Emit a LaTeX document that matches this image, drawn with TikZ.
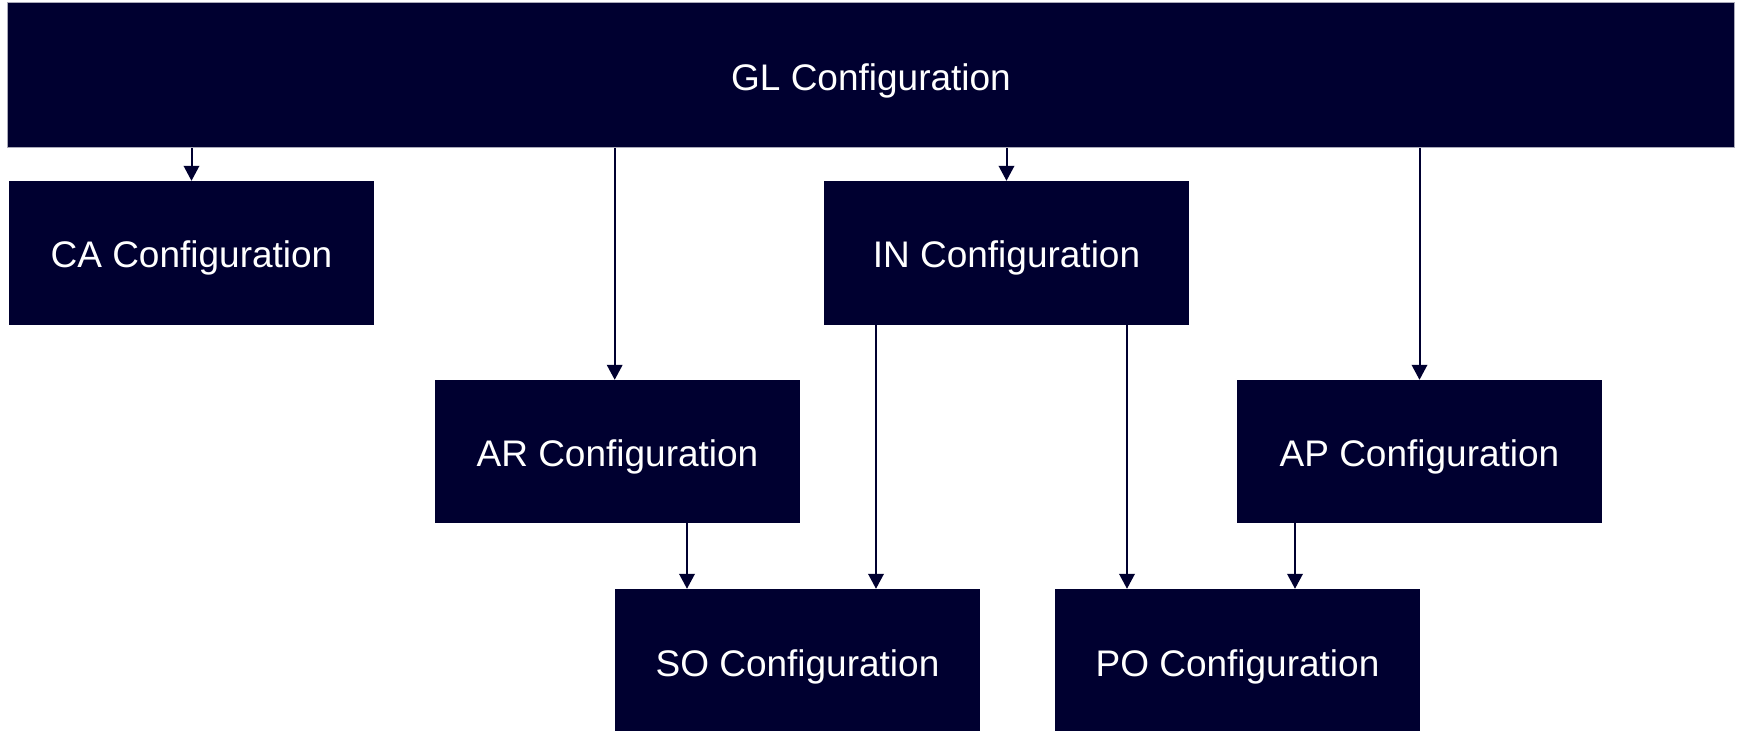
\documentclass[tikz,border=0pt]{standalone}
\usepackage{fontspec}
\setmainfont{Liberation Sans}
\usetikzlibrary{arrows.meta}
\definecolor{navy}{RGB}{0,0,48}
\begin{document}
\begin{tikzpicture}[x=1pt,y=-1pt,
  box/.style={fill=navy, draw=none, inner sep=0pt, minimum width=365pt, text=white,
    text height=30pt, text depth=0pt,
    font=\fontsize{37}{44}\selectfont},
  arr/.style={draw=navy, line width=2pt, -{Triangle[width=15.5pt,length=15pt]}}]
\useasboundingbox (0,0) rectangle (1741,731);
\node[box, minimum width=1727pt, minimum height=145.5pt, draw={rgb,255:red,170;green,170;blue,185}, line width=0.6pt] (gl) at (871,75) {GL Configuration};
\node[box, minimum height=143.5pt] (ca) at (191.5,252.75) {CA Configuration};
\node[box, minimum height=143.5pt] (in) at (1006.5,252.75) {IN Configuration};
\node[box, minimum height=142.7pt] (ar) at (617.5,451.35) {AR Configuration};
\node[box, minimum height=142.7pt] (ap) at (1419.5,451.35) {AP Configuration};
\node[box, minimum height=144pt] (so) at (797.5,661) {SO Configuration};
\node[box, minimum height=144pt] (po) at (1237.5,661) {PO Configuration};
\draw[arr] (gl.south -| ca.north) -- (ca.north);
\draw[arr] (gl.south -| 614.7,0) -- (ar.north -| 614.7,0);
\draw[arr] (gl.south -| in.north) -- (in.north);
\draw[arr] (gl.south -| ap.north) -- (ap.north);
\draw[arr] (ar.south -| 687,0) -- (so.north -| 687,0);
\draw[arr] (in.south -| 876,0) -- (so.north -| 876,0);
\draw[arr] (in.south -| 1127,0) -- (po.north -| 1127,0);
\draw[arr] (ap.south -| 1295,0) -- (po.north -| 1295,0);
\end{tikzpicture}
\end{document}
